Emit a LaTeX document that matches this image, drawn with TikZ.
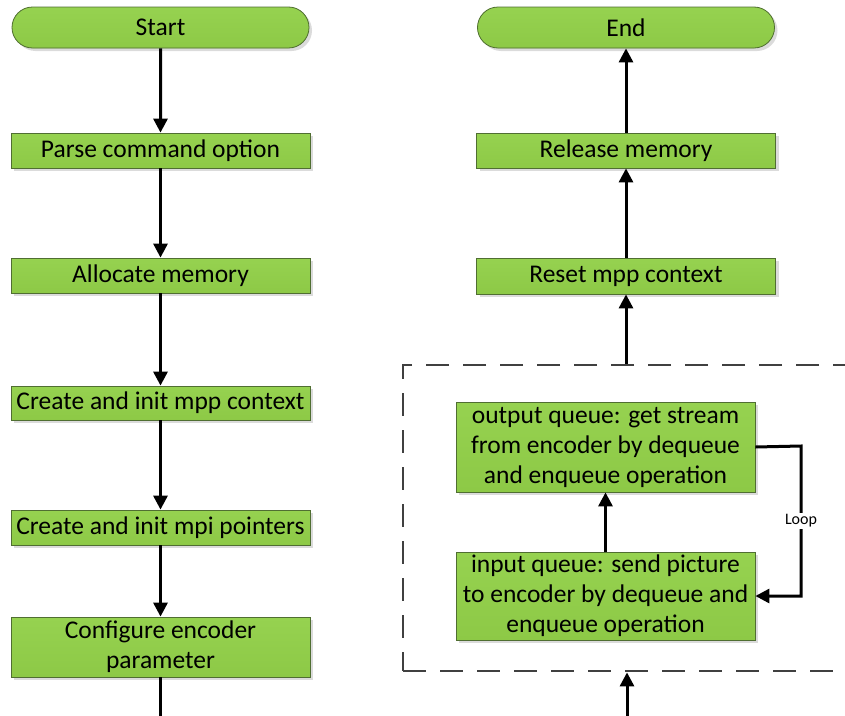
\documentclass[tikz,border=0pt]{standalone}
\usepackage{fontspec}
\setmainfont{Carlito}
\usetikzlibrary{arrows.meta,shadows,shapes.misc}
\definecolor{boxgreen}{RGB}{141,201,70}
\definecolor{boxgreenlt}{RGB}{150,210,80}
\definecolor{boxedge}{RGB}{80,110,50}
\definecolor{dashgray}{RGB}{64,64,64}
\tikzset{
  procbox/.style={draw=boxedge, line width=0.8pt, fill=boxgreen,
    top color=boxgreenlt, bottom color=boxgreen,
    minimum width=299pt, inner sep=1pt, align=center,
    font=\fontsize{25.5pt}{30pt}\selectfont,
    drop shadow={shadow xshift=3pt, shadow yshift=-3pt, fill=gray!40, opacity=0.7}},
  termbox/.style={procbox, rounded rectangle, minimum height=41pt},
  flow/.style={line width=3pt, -{Triangle[length=14pt,width=14pt]}},
  plainline/.style={line width=3pt},
  dashbox/.style={draw=dashgray, line width=2.8pt, dash pattern=on 23pt off 14pt},
}
\begin{document}
\begin{tikzpicture}[x=1pt,y=-1pt]
\useasboundingbox (0,0) rectangle (845,715);
\clip (0,0) rectangle (845,715);
% left column
\node[termbox] (start) at (160.5,27.5) {Start};
\node[procbox, minimum height=35pt] (parse) at (160.5,150.5) {Parse command option};
\node[procbox, minimum height=35pt] (alloc) at (160.5,275.5) {Allocate memory};
\node[procbox, minimum height=34pt] (ctx) at (160.5,403) {Create and init mpp context};
\node[procbox, minimum height=35pt] (mpi) at (160.5,527.5) {Create and init mpi pointers};
\node[procbox, minimum height=60pt] (cfg) at (160.5,647) {Configure encoder\\parameter};
\coordinate (leftout) at (160.5,720);
\draw[flow] (start) -- (parse);
\draw[flow] (parse) -- (alloc);
\draw[flow] (alloc) -- (ctx);
\draw[flow] (ctx) -- (mpi);
\draw[flow] (mpi) -- (cfg);
\draw[plainline] (cfg) -- (leftout);
% right column
\node[termbox] (end) at (626,27.5) {End};
\node[procbox, minimum height=35pt] (release) at (626,150.5) {Release memory};
\node[procbox, minimum height=36pt] (reset) at (626,276) {Reset mpp context};
\node[dashbox, minimum width=462pt, minimum height=306pt, inner sep=0pt] (loopbox) at (634,518) {};
\node[procbox, minimum height=90pt] (outq) at (605.5,447) {output queue: get stream\\from encoder by dequeue\\and enqueue operation};
\node[procbox, minimum height=88pt] (inq) at (605.5,596) {input queue: send picture\\to encoder by dequeue and\\enqueue operation};
\coordinate (rightin) at (627,720);
\coordinate (loopc) at (801,446);
\draw[flow] (release) -- (end);
\draw[flow] (reset) -- (release);
\draw[flow] (loopbox.north -| reset.south) -- (reset);
\draw[flow] (rightin) -- (loopbox.south -| rightin);
\draw[flow] (inq) -- (outq);
\draw[flow] (outq.east) -- (loopc) -- (loopc |- inq.east)
  node[pos=0.5, fill=white, inner sep=2pt, font=\fontsize{16pt}{18pt}\selectfont] (looplbl) {Loop}
  -- (inq.east);
\end{tikzpicture}
\end{document}
